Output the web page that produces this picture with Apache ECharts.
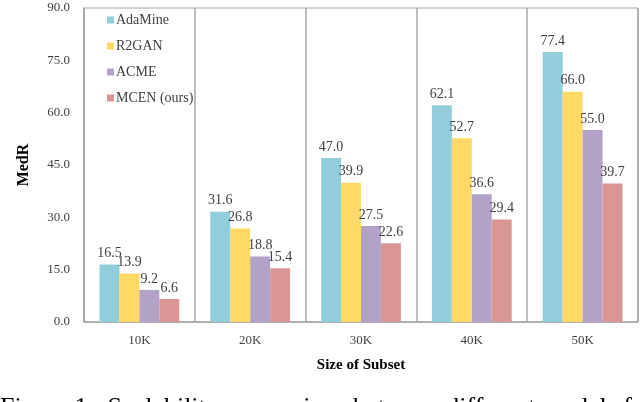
<!DOCTYPE html>
<html>
<head>
<meta charset="utf-8">
<script src="https://cdn.jsdelivr.net/npm/echarts@6/dist/echarts.min.js"></script>
<style>
  html, body { margin: 0; padding: 0; background: #fff; }
  #chart { width: 640px; height: 402px; }
</style>
</head>
<body>
<div id="chart"></div>
<script>
const subsets = ['10K', '20K', '30K', '40K', '50K']
const adaMine = [16.5, 31.6, 47.0, 62.1, 77.4]
const r2gan = [13.9, 26.8, 39.9, 52.7, 66.0]
const acme = [9.2, 18.8, 27.5, 36.6, 55.0]
const mcen = [6.6, 15.4, 22.6, 29.4, 39.7]
const seriesNames = ['AdaMine', 'R2GAN', 'ACME', 'MCEN (ours)']
const colors = ['#92cddc', '#ffd966', '#b3a2c7', '#d99694']

const serif = '"Liberation Serif", "DejaVu Serif", serif'

function makeBar (name, data) {
  return {
    name,
    type: 'bar',
    data,
    barGap: '0%',
    barCategoryGap: '28%',
    label: {
      show: true,
      position: 'top',
      distance: 4,
      fontFamily: serif,
      fontSize: 14,
      color: '#404040',
      formatter: p => p.value.toFixed(1)
    }
  }
}

var chart = echarts.init(document.getElementById('chart'))

chart.setOption({
  animation: false,
  color: colors,
  textStyle: { fontFamily: serif },
  grid: {
    left: 84,
    right: 2,
    top: 8,
    bottom: 80,
    show: true,
    borderColor: '#a6a6a6',
    borderWidth: 1
  },
  legend: {
    orient: 'vertical',
    left: 102,
    top: 8,
    itemWidth: 7,
    itemHeight: 7,
    itemGap: 12,
    icon: 'rect',
    data: seriesNames,
    textStyle: { fontFamily: serif, fontSize: 14, color: '#404040', padding: [0, 0, 0, -3] }
  },
  xAxis: {
    type: 'category',
    data: subsets,
    name: 'Size of Subset',
    nameLocation: 'middle',
    nameGap: 36,
    nameTextStyle: { fontFamily: serif, fontSize: 15, fontWeight: 'bold', color: '#000' },
    axisLine: { lineStyle: { color: '#a6a6a6', width: 1.5 } },
    axisTick: { show: false },
    axisLabel: { fontFamily: serif, fontSize: 13, color: '#404040', margin: 12 },
    splitLine: { show: true, lineStyle: { color: '#a6a6a6', width: 1.5 } }
  },
  yAxis: {
    type: 'value',
    min: 0,
    max: 90,
    interval: 15,
    name: 'MedR',
    nameLocation: 'middle',
    nameGap: 52,
    nameTextStyle: { fontFamily: serif, fontSize: 16, fontWeight: 'bold', color: '#000' },
    axisLine: { show: true, lineStyle: { color: '#a6a6a6', width: 1.5 } },
    axisTick: { show: false },
    splitLine: { show: false },
    axisLabel: {
      fontFamily: serif,
      fontSize: 13,
      color: '#404040',
      margin: 14,
      formatter: v => v.toFixed(1)
    }
  },
  graphic: [{
    type: 'text',
    left: 0,
    top: 395,
    style: {
      text: 'Figure 1:  Scalability comparison between different models f',
      fontFamily: serif,
      fontSize: 26,
      fill: '#000'
    }
  }],
  series: [
    makeBar(seriesNames[0], adaMine),
    makeBar(seriesNames[1], r2gan),
    makeBar(seriesNames[2], acme),
    makeBar(seriesNames[3], mcen)
  ]
})
</script>
</body>
</html>
